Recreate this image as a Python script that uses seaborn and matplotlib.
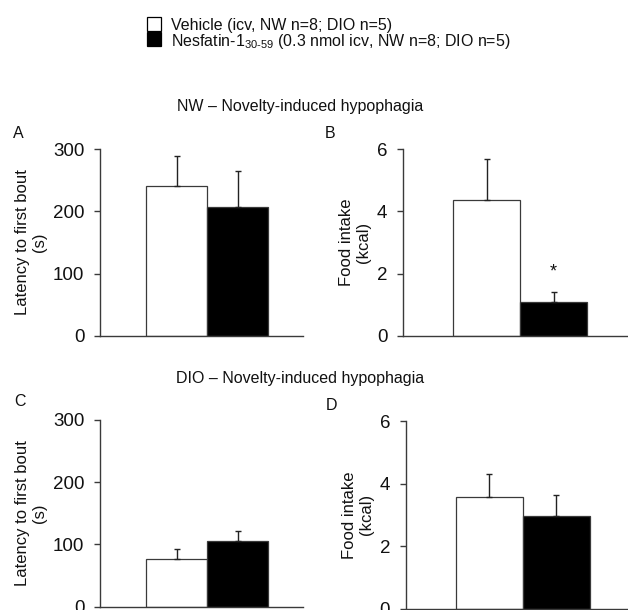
import matplotlib
matplotlib.use("Agg")
import matplotlib.pyplot as plt
import seaborn as sns
import pandas as pd
from matplotlib.patches import Rectangle

sns.set_theme(style="white")
plt.rcParams['font.family'] = ['Liberation Sans', 'DejaVu Sans']
plt.rcParams['mathtext.fontset'] = 'custom'
plt.rcParams['mathtext.rm'] = 'Liberation Sans'

groups = ["Vehicle", "Nesfatin-1 30-59"]
legend_labels = ["Vehicle (icv, NW n=8; DIO n=5)",
                 r"Nesfatin-1$_{\mathregular{30‐59}}$ (0.3 nmol icv, NW n=8; DIO n=5)"]
colors = ["white", "black"]

# Panel A: NW latency (s)
nw_latency_mean = [241, 207]
nw_latency_sem = [48, 58]
# Panel B: NW food intake (kcal)
nw_food_mean = [4.36, 1.10]
nw_food_sem = [1.32, 0.32]
# Panel C: DIO latency (s)
dio_latency_mean = [77, 106]
dio_latency_sem = [16, 16]
# Panel D: DIO food intake (kcal)
dio_food_mean = [3.57, 2.97]
dio_food_sem = [0.72, 0.68]

W, H = 628, 610
fig = plt.figure(figsize=(W / 100, H / 100), dpi=100)

def px_axes(x0, x1, y_top, y_bot):
    return fig.add_axes([x0 / W, (H - y_bot) / H, (x1 - x0) / W, (y_bot - y_top) / H])

edge = "#3a3a3a"
txt = "#111111"

def panel(ax, means, sems, ylim, yticks, ylabel, xlim):
    df = pd.DataFrame({"group": groups, "value": means})
    sns.barplot(data=df, x="group", y="value", hue="group", palette=dict(zip(groups, colors)),
                width=1.0, edgecolor=edge, linewidth=0.9, errorbar=None, legend=False, ax=ax)
    ax.errorbar([0, 1], means, yerr=[[0, 0], sems], fmt="none", ecolor="#222222",
                elinewidth=1.0, capsize=2.5, capthick=1.0, zorder=3)
    ax.set_ylim(*ylim)
    ax.set_xlim(*xlim)
    ax.set_yticks(yticks)
    ax.set_xticks([])
    ax.set_xlabel("")
    ax.set_ylabel(ylabel, fontsize=12, labelpad=4, linespacing=1.15, color=txt)
    for s in ["top", "right"]:
        ax.spines[s].set_visible(False)
    for s in ["left", "bottom"]:
        ax.spines[s].set_color(edge)
        ax.spines[s].set_linewidth(1.0)
    ax.tick_params(axis="y", left=True, direction="out", length=4.3, width=1.0,
                   color=edge, labelsize=13.5, pad=7, labelcolor=txt)
    ax.patch.set_alpha(0)

axA = px_axes(100, 303, 149, 336)
panel(axA, nw_latency_mean, nw_latency_sem, (0, 300), [0, 100, 200, 300],
      "Latency to first bout\n(s)", (-1.254, 2.07))
axB = px_axes(403, 630, 149, 336)
panel(axB, nw_food_mean, nw_food_sem, (0, 6), [0, 2, 4, 6],
      "Food intake\n(kcal)", (-1.25, 2.14))
axB.text(1, nw_food_mean[1] + nw_food_sem[1] + 0.36, "*", ha="center", va="bottom",
         fontsize=13, color=txt)
axC = px_axes(100, 303, 420, 606.7)
panel(axC, dio_latency_mean, dio_latency_sem, (0, 300), [0, 100, 200, 300],
      "Latency to first bout\n(s)", (-1.254, 2.07))
axD = px_axes(405.7, 632, 421, 608.7)
panel(axD, dio_food_mean, dio_food_sem, (0, 6), [0, 2, 4, 6],
      "Food intake\n(kcal)", (-1.246, 2.13))

def ftext(x, y, s, **kw):
    fig.text(x / W, 1 - y / H, s, **kw)

ftext(300, 106, "NW – Novelty-induced hypophagia", ha="center", va="center", fontsize=11.5, color=txt)
ftext(300, 378, "DIO – Novelty-induced hypophagia", ha="center", va="center", fontsize=11.5, color=txt)
for x, y, s in [(18, 133, "A"), (330, 133, "B"), (20, 402, "C"), (331, 405, "D")]:
    ftext(x, y, s, ha="center", va="center", fontsize=11.5, color=txt)

# legend drawn as figure-level boxes + text
for (y0, y1), c in zip([(17, 31), (32, 46)], colors):
    fig.patches.append(Rectangle((147 / W, 1 - y1 / H), 14 / W, (y1 - y0) / H,
                                 transform=fig.transFigure, facecolor=c,
                                 edgecolor="black", linewidth=0.9))
for yb, s in zip([30, 46], legend_labels):
    ftext(171, yb, s, ha="left", va="baseline", fontsize=11.5, color=txt)

fig.savefig("out.png", dpi=100)
